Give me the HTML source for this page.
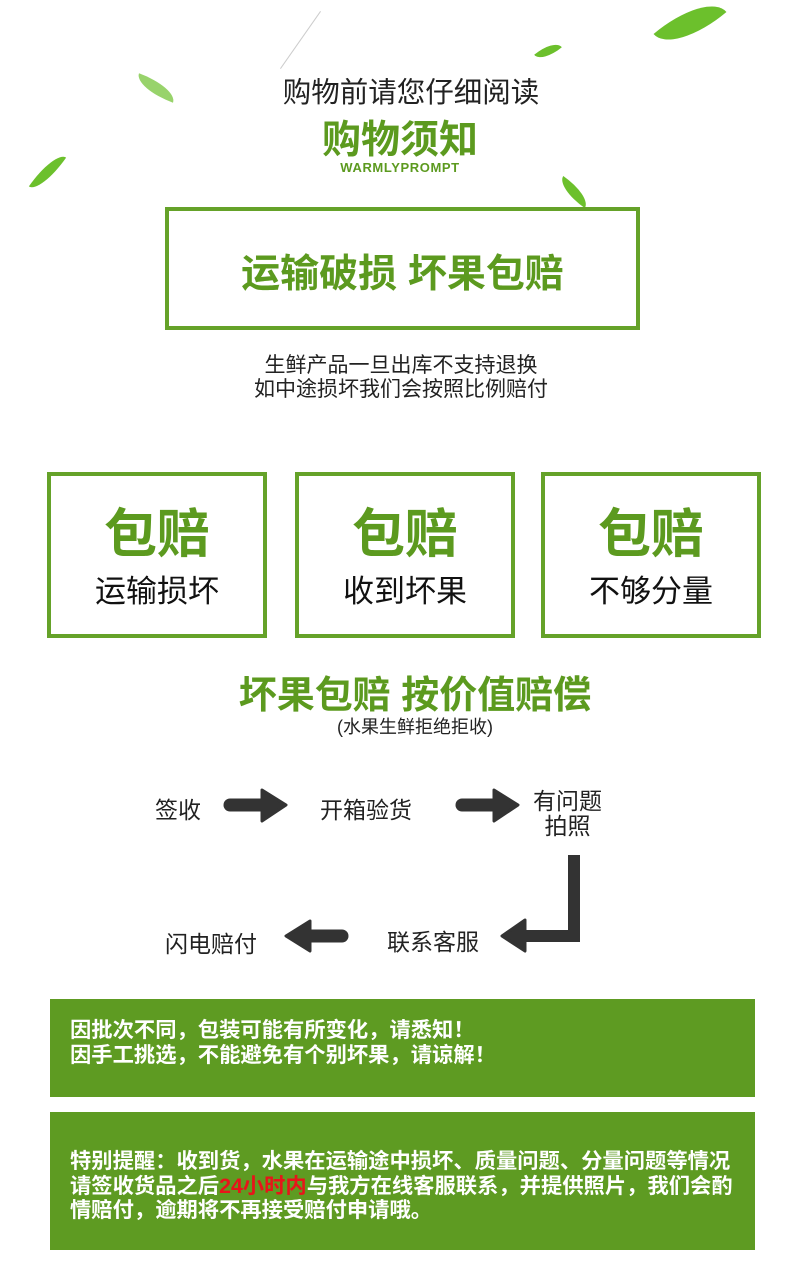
<!DOCTYPE html>
<html><head><meta charset="utf-8"><style>
body{margin:0;width:790px;height:1277px;background:#fff;position:relative;overflow:hidden;font-family:"Liberation Sans","Noto Sans CJK SC",sans-serif}
.a{position:absolute;white-space:nowrap}
.c{left:0;width:100%;text-align:center;box-sizing:border-box}
.g{color:#5c9a1f;font-weight:bold}
.box{position:absolute;border:4px solid #65a229;box-sizing:border-box}
.gb{position:absolute;left:50px;width:705px;background:#5e9b22;color:#fff;font-weight:bold;font-size:21.3px;line-height:24.5px;box-sizing:border-box;padding-left:20px}
.leaf{position:absolute;background:#6cc02c;border-radius:0 100% 0 100%}
.f{font-size:23px;color:#222}
</style></head><body>
<div class="leaf" style="left:655px;top:8px;width:70px;height:30px;transform:rotate(-40deg)"></div>
<div class="leaf" style="left:535px;top:45px;width:26px;height:12px;transform:rotate(-40deg)"></div>
<div class="leaf" style="left:135px;top:80px;width:42px;height:16px;transform:rotate(20deg);opacity:.7"></div>
<div class="leaf" style="left:25px;top:165px;width:45px;height:14px;transform:rotate(-55deg)"></div>
<div class="leaf" style="left:556px;top:185px;width:36px;height:14px;transform:rotate(35deg)"></div>
<div class="a" style="left:300px;top:5px;width:1px;height:70px;background:#ccc;transform:rotate(35deg)"></div>
<div class="a c" style="top:70px;font-size:28.5px;color:#222;padding-left:32px">购物前请您仔细阅读</div>
<div class="a c g" style="top:109px;font-size:39px;padding-left:10px">购物须知</div>
<div class="a c g" style="top:160px;font-size:13px;letter-spacing:0.6px;padding-left:10px">WARMLYPROMPT</div>
<div class="box" style="left:165px;top:207px;width:475px;height:123px"></div>
<div class="a g" style="left:165px;width:475px;text-align:center;top:243px;font-size:39px">运输破损 坏果包赔</div>
<div class="a c" style="top:354px;font-size:21px;color:#222;line-height:24px;padding-left:12px">生鲜产品一旦出库不支持退换<br>如中途损坏我们会按照比例赔付</div>
<div class="box" style="left:47px;top:472px;width:220px;height:166px"></div>
<div class="box" style="left:295px;top:472px;width:220px;height:166px"></div>
<div class="box" style="left:541px;top:472px;width:220px;height:166px"></div>
<div class="a g" style="left:47px;width:220px;text-align:center;top:492px;font-size:53px">包赔</div>
<div class="a g" style="left:295px;width:220px;text-align:center;top:492px;font-size:53px">包赔</div>
<div class="a g" style="left:541px;width:220px;text-align:center;top:492px;font-size:53px">包赔</div>
<div class="a" style="left:47px;width:220px;text-align:center;top:566px;font-size:31px;color:#111">运输损坏</div>
<div class="a" style="left:295px;width:220px;text-align:center;top:566px;font-size:31px;color:#111">收到坏果</div>
<div class="a" style="left:541px;width:220px;text-align:center;top:566px;font-size:31px;color:#111">不够分量</div>
<div class="a c g" style="top:664px;font-size:38px;padding-left:40px">坏果包赔 按价值赔偿</div>
<div class="a c" style="top:713px;font-size:18px;color:#222;padding-left:40px">(水果生鲜拒绝拒收)</div>
<div class="a f" style="left:155px;top:791px">签收</div>
<div class="a f" style="left:320px;top:791px">开箱验货</div>
<div class="a f" style="left:533px;top:789px;line-height:25px;text-align:center">有问题<br>拍照</div>
<div class="a f" style="left:387px;top:923px">联系客服</div>
<div class="a f" style="left:165px;top:925px">闪电赔付</div>
<svg class="a" style="left:0;top:0" width="790" height="1277">
<g fill="#333" stroke="#333" stroke-linecap="round">
<line x1="230" y1="805" x2="265" y2="805" stroke-width="13"/><polygon points="262,790 286,805 262,821" stroke-width="3" stroke-linejoin="round"/>
<line x1="462" y1="805" x2="497" y2="805" stroke-width="13"/><polygon points="494,790 518,805 494,821" stroke-width="3" stroke-linejoin="round"/>
<polyline points="574,855 574,936 525,936" fill="none" stroke-width="12" stroke-linecap="butt"/>
<polygon points="525,920 502,936 525,951" stroke-width="3" stroke-linejoin="round"/>
<line x1="342" y1="936" x2="308" y2="936" stroke-width="13"/><polygon points="310,921 286,936 310,951" stroke-width="3" stroke-linejoin="round"/>
</g></svg>
<div class="gb" style="top:999px;height:98px;padding-top:19px">因批次不同，包装可能有所变化，请悉知！<br>因手工挑选，不能避免有个别坏果，请谅解！</div>
<div class="gb" style="top:1112px;height:138px;padding-top:37px">特别提醒：收到货，水果在运输途中损坏、质量问题、分量问题等情况<br>请签收货品之后<span style="color:#e8141a">24小时内</span>与我方在线客服联系，并提供照片，我们会酌<br>情赔付，逾期将不再接受赔付申请哦。</div>
</body></html>
